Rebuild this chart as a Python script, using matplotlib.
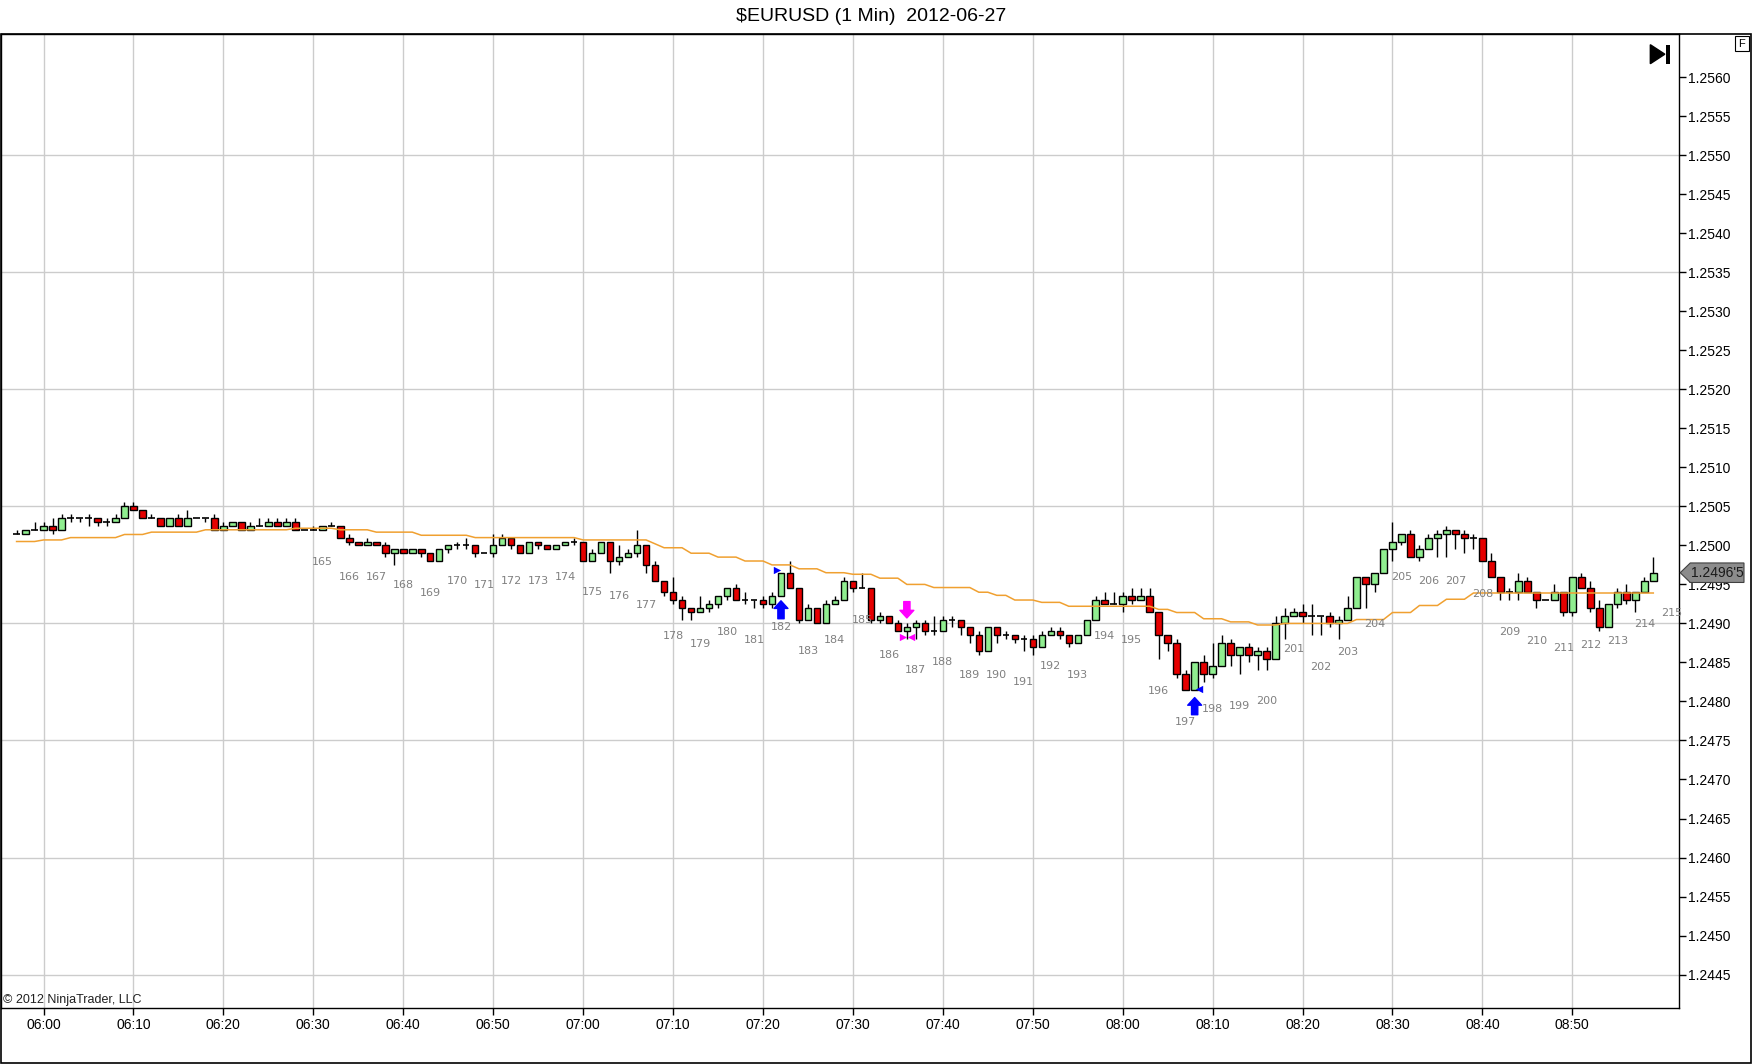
import matplotlib
matplotlib.use("Agg")
import matplotlib.pyplot as plt
from matplotlib.patches import Rectangle, Polygon
import matplotlib.transforms as mtransforms
import pandas as pd

plt.rcParams['font.family'] = ['Liberation Sans', 'DejaVu Sans']

# ---------------- data ----------------
title = "$EURUSD (1 Min)  2012-06-27"
first_bar_time = "2012-06-27 05:57"
axis_origin = "2012-06-27 06:00"

opens = [
    1.25015, 1.25015, 1.2502, 1.2502, 1.25025, 1.2502, 1.25035, 1.25035, 1.25035, 1.25035,
    1.2503, 1.2503, 1.25035, 1.2505, 1.25045, 1.25035, 1.25035, 1.25025, 1.25035, 1.25025,
    1.25035, 1.25035, 1.25035, 1.2502, 1.25025, 1.2503, 1.2502, 1.25025, 1.25025, 1.2503,
    1.25025, 1.2503, 1.2502, 1.2502, 1.2502, 1.25025, 1.25025, 1.2501, 1.25005, 1.2500,
    1.25005, 1.2500, 1.2499, 1.24995, 1.2499, 1.24995, 1.2499, 1.2498, 1.24995, 1.2500,
    1.2500, 1.2500, 1.2499, 1.2499, 1.2500, 1.2501, 1.2500, 1.2499, 1.25005, 1.2500,
    1.24995, 1.2500, 1.25005, 1.25005, 1.2498, 1.2499, 1.25005, 1.2498, 1.24985, 1.2499,
    1.2500, 1.24975, 1.24955, 1.2494, 1.2493, 1.2492, 1.24915, 1.2492, 1.24925, 1.24935,
    1.24945, 1.2493, 1.2493, 1.2493, 1.24925, 1.24935, 1.24965, 1.24945, 1.24905, 1.2492,
    1.2490, 1.24925, 1.2493, 1.24955, 1.24945, 1.24945, 1.24905, 1.2491, 1.2490, 1.2489,
    1.24895, 1.2490, 1.2489, 1.2489, 1.24905, 1.24905, 1.24895, 1.24885, 1.24865, 1.24895,
    1.24885, 1.24885, 1.2488, 1.2488, 1.2487, 1.24885, 1.2489, 1.24885, 1.24875, 1.24885,
    1.24905, 1.2493, 1.24925, 1.24925, 1.24935, 1.2493, 1.24935, 1.24915, 1.24885, 1.24875,
    1.24835, 1.24815, 1.2485, 1.24835, 1.24845, 1.24875, 1.2486, 1.2487, 1.2486, 1.24865,
    1.24855, 1.2490, 1.2491, 1.24915, 1.2491, 1.2491, 1.2491, 1.2490, 1.24905, 1.2492,
    1.2496, 1.2495, 1.24965, 1.24995, 1.25005, 1.25015, 1.24985, 1.24995, 1.2501, 1.25015,
    1.2502, 1.25015, 1.2501, 1.2501, 1.2498, 1.2496, 1.2494, 1.2494, 1.24955, 1.2494,
    1.2493, 1.2493, 1.2494, 1.24915, 1.2496, 1.24945, 1.2492, 1.24895, 1.24925, 1.2494,
    1.2493, 1.2494, 1.24955,
]
highs = [
    1.2502, 1.2502, 1.2503, 1.2503, 1.25035, 1.2504, 1.2504, 1.25035, 1.2504, 1.25035,
    1.25035, 1.2504, 1.25055, 1.25055, 1.25045, 1.2504, 1.25035, 1.25035, 1.2504, 1.25045,
    1.25035, 1.25035, 1.2504, 1.2503, 1.2503, 1.2503, 1.2503, 1.25035, 1.25035, 1.25035,
    1.25035, 1.25035, 1.2502, 1.25025, 1.25025, 1.2503, 1.25025, 1.25015, 1.25005, 1.2501,
    1.25005, 1.25005, 1.24995, 1.24995, 1.24995, 1.24995, 1.2499, 1.24995, 1.2500, 1.25005,
    1.2501, 1.2500, 1.2499, 1.25015, 1.25015, 1.2501, 1.2500, 1.25005, 1.25005, 1.2500,
    1.2500, 1.25005, 1.2501, 1.25005, 1.24995, 1.25005, 1.25005, 1.2500, 1.24995, 1.2502,
    1.2500, 1.2498, 1.24955, 1.2496, 1.24935, 1.2492, 1.24935, 1.2493, 1.24935, 1.24945,
    1.2495, 1.2494, 1.2493, 1.24935, 1.2494, 1.24965, 1.2498, 1.24945, 1.24925, 1.2492,
    1.2493, 1.24935, 1.2496, 1.24955, 1.24965, 1.24945, 1.24915, 1.2491, 1.24905, 1.2490,
    1.24905, 1.24905, 1.2491, 1.2491, 1.2491, 1.24905, 1.24895, 1.2489, 1.24895, 1.24895,
    1.2489, 1.24885, 1.24885, 1.24885, 1.2489, 1.24895, 1.24895, 1.24885, 1.24885, 1.24905,
    1.24935, 1.2494, 1.2494, 1.2494, 1.24945, 1.24945, 1.24945, 1.24915, 1.24885, 1.2488,
    1.2484, 1.2485, 1.2486, 1.24875, 1.24885, 1.2488, 1.2487, 1.24875, 1.2487, 1.2487,
    1.2491, 1.2492, 1.2492, 1.24925, 1.24925, 1.2491, 1.24915, 1.2491, 1.24935, 1.2496,
    1.2496, 1.24965, 1.24995, 1.2503, 1.25015, 1.2502, 1.2500, 1.25015, 1.2502, 1.25025,
    1.2502, 1.2502, 1.25015, 1.2501, 1.2499, 1.2496, 1.24945, 1.24965, 1.2496, 1.2494,
    1.2493, 1.2495, 1.2494, 1.2496, 1.24965, 1.24955, 1.2493, 1.24925, 1.24945, 1.2495,
    1.2494, 1.2496, 1.24985,
]
lows = [
    1.25015, 1.25015, 1.2502, 1.2502, 1.25015, 1.2502, 1.2503, 1.2503, 1.25025, 1.25025,
    1.25025, 1.2503, 1.25035, 1.25045, 1.25035, 1.25035, 1.25025, 1.25025, 1.25025, 1.25025,
    1.25035, 1.2503, 1.2502, 1.2502, 1.25025, 1.2502, 1.2502, 1.25025, 1.25025, 1.25025,
    1.25025, 1.2502, 1.2502, 1.2502, 1.2502, 1.25025, 1.2501, 1.2500, 1.2500, 1.2500,
    1.2500, 1.24985, 1.24975, 1.2499, 1.2499, 1.24985, 1.2498, 1.2498, 1.2499, 1.24995,
    1.24995, 1.24985, 1.2499, 1.24985, 1.2500, 1.24995, 1.2499, 1.2499, 1.24995, 1.24995,
    1.24995, 1.2500, 1.2500, 1.2498, 1.2498, 1.2499, 1.24965, 1.24975, 1.24985, 1.24985,
    1.24965, 1.24955, 1.24935, 1.24925, 1.24905, 1.24905, 1.24915, 1.24915, 1.2492, 1.2493,
    1.2493, 1.24925, 1.2492, 1.2492, 1.2492, 1.24935, 1.24945, 1.2490, 1.24905, 1.2490,
    1.2490, 1.24925, 1.2493, 1.2494, 1.24945, 1.2490, 1.2490, 1.2490, 1.2489, 1.2488,
    1.2488, 1.24885, 1.24885, 1.2489, 1.24895, 1.24885, 1.24875, 1.2486, 1.24865, 1.24875,
    1.2488, 1.24875, 1.24865, 1.2486, 1.2487, 1.24885, 1.2488, 1.2487, 1.24875, 1.24885,
    1.24905, 1.24925, 1.24925, 1.24915, 1.24925, 1.2493, 1.24915, 1.24855, 1.24865, 1.2483,
    1.24815, 1.24815, 1.24825, 1.2483, 1.24845, 1.24845, 1.24835, 1.2485, 1.2484, 1.2484,
    1.24855, 1.2488, 1.2491, 1.2490, 1.24885, 1.24885, 1.24895, 1.2488, 1.24905, 1.2492,
    1.2492, 1.2494, 1.24965, 1.2498, 1.2500, 1.24985, 1.2498, 1.24995, 1.24985, 1.24985,
    1.24995, 1.2499, 1.24995, 1.2498, 1.2496, 1.2493, 1.2493, 1.2493, 1.2494, 1.2492,
    1.2493, 1.2493, 1.2491, 1.2491, 1.24945, 1.24915, 1.2489, 1.24895, 1.2492, 1.24925,
    1.24915, 1.2494, 1.24955,
]
closes = [
    1.25015, 1.2502, 1.2502, 1.25025, 1.2502, 1.25035, 1.25035, 1.25035, 1.25035, 1.2503,
    1.2503, 1.25035, 1.2505, 1.25045, 1.25035, 1.25035, 1.25025, 1.25035, 1.25025, 1.25035,
    1.25035, 1.25035, 1.2502, 1.25025, 1.2503, 1.2502, 1.25025, 1.25025, 1.2503, 1.25025,
    1.2503, 1.2502, 1.2502, 1.2502, 1.25025, 1.25025, 1.2501, 1.25005, 1.2500, 1.25005,
    1.2500, 1.2499, 1.24995, 1.2499, 1.24995, 1.2499, 1.2498, 1.24995, 1.2500, 1.2500,
    1.2500, 1.2499, 1.2499, 1.2500, 1.2501, 1.2500, 1.2499, 1.25005, 1.2500, 1.24995,
    1.2500, 1.25005, 1.25005, 1.2498, 1.2499, 1.25005, 1.2498, 1.24985, 1.2499, 1.2500,
    1.24975, 1.24955, 1.2494, 1.2493, 1.2492, 1.24915, 1.2492, 1.24925, 1.24935, 1.24945,
    1.2493, 1.2493, 1.2493, 1.24925, 1.24935, 1.24965, 1.24945, 1.24905, 1.2492, 1.2490,
    1.24925, 1.2493, 1.24955, 1.24945, 1.24945, 1.24905, 1.2491, 1.2490, 1.2489, 1.24895,
    1.2490, 1.2489, 1.2489, 1.24905, 1.24905, 1.24895, 1.24885, 1.24865, 1.24895, 1.24885,
    1.24885, 1.2488, 1.2488, 1.2487, 1.24885, 1.2489, 1.24885, 1.24875, 1.24885, 1.24905,
    1.2493, 1.24925, 1.24925, 1.24935, 1.2493, 1.24935, 1.24915, 1.24885, 1.24875, 1.24835,
    1.24815, 1.2485, 1.24835, 1.24845, 1.24875, 1.2486, 1.2487, 1.2486, 1.24865, 1.24855,
    1.2490, 1.2491, 1.24915, 1.2491, 1.2491, 1.2491, 1.2490, 1.24905, 1.2492, 1.2496,
    1.2495, 1.24965, 1.24995, 1.25005, 1.25015, 1.24985, 1.24995, 1.2501, 1.25015, 1.2502,
    1.25015, 1.2501, 1.2501, 1.2498, 1.2496, 1.2494, 1.2494, 1.24955, 1.2494, 1.2493,
    1.2493, 1.2494, 1.24915, 1.2496, 1.24945, 1.2492, 1.24895, 1.24925, 1.2494, 1.2493,
    1.2494, 1.24955, 1.24965,
]
trend_line = [
    1.25005, 1.25005, 1.25005, 1.25007, 1.25007, 1.25007, 1.2501, 1.2501, 1.2501, 1.2501,
    1.2501, 1.2501, 1.25014, 1.25014, 1.25014, 1.25017, 1.25017, 1.25017, 1.25017, 1.25017,
    1.25017, 1.2502, 1.2502, 1.2502, 1.2502, 1.2502, 1.2502, 1.2502, 1.2502, 1.2502,
    1.2502, 1.25022, 1.25022, 1.25022, 1.25022, 1.25022, 1.2502, 1.2502, 1.2502, 1.2502,
    1.25017, 1.25017, 1.25017, 1.25017, 1.25017, 1.25013, 1.25013, 1.25013, 1.25013, 1.25013,
    1.25013, 1.2501, 1.2501, 1.2501, 1.2501, 1.2501, 1.2501, 1.2501, 1.2501, 1.2501,
    1.2501, 1.2501, 1.2501, 1.25007, 1.25007, 1.25007, 1.25007, 1.25007, 1.25007, 1.25007,
    1.25007, 1.25002, 1.24997, 1.24997, 1.24997, 1.2499, 1.2499, 1.2499, 1.24985, 1.24985,
    1.24985, 1.2498, 1.2498, 1.2498, 1.24975, 1.24975, 1.24975, 1.2497, 1.2497, 1.2497,
    1.24965, 1.24965, 1.24965, 1.24963, 1.24963, 1.24963, 1.24958, 1.24958, 1.24958, 1.2495,
    1.2495, 1.2495, 1.24946, 1.24946, 1.24946, 1.24946, 1.24946, 1.2494, 1.2494, 1.24936,
    1.24936, 1.2493, 1.2493, 1.2493, 1.24927, 1.24927, 1.24927, 1.24922, 1.24922, 1.24922,
    1.24922, 1.24922, 1.24922, 1.24922, 1.24922, 1.24922, 1.24922, 1.24918, 1.24918, 1.24914,
    1.24914, 1.24914, 1.24906, 1.24906, 1.24906, 1.24902, 1.24902, 1.24902, 1.24898, 1.24898,
    1.24898, 1.249, 1.249, 1.249, 1.249, 1.249, 1.249, 1.249, 1.249, 1.24905,
    1.24905, 1.24905, 1.24905, 1.24914, 1.24914, 1.24914, 1.24923, 1.24923, 1.24923, 1.24931,
    1.24931, 1.24931, 1.24939, 1.24939, 1.24939, 1.24939, 1.24939, 1.24939, 1.24939, 1.24939,
    1.24939, 1.24939, 1.24939, 1.24939, 1.24939, 1.24939, 1.24939, 1.24939, 1.24939, 1.24939,
    1.24939, 1.24939, 1.24939,
]

bar_numbers = [165, 166, 167, 168, 169, 170, 171, 172, 173, 174, 175, 176, 177, 178, 179,
               180, 181, 182, 183, 184, 185, 186, 187, 188, 189, 190, 191, 192, 193, 194,
               195, 196, 197, 198, 199, 200, 201, 202, 203, 204, 205, 206, 207, 208, 209,
               210, 211, 212, 213, 214, 215]
bar_number_times = ["06:31", "06:34", "06:37", "06:40", "06:43", "06:46", "06:49", "06:52",
                    "06:55", "06:58", "07:01", "07:04", "07:07", "07:10", "07:13", "07:16",
                    "07:19", "07:22", "07:25", "07:28", "07:31", "07:34", "07:37", "07:40",
                    "07:43", "07:46", "07:49", "07:52", "07:55", "07:58", "08:01", "08:04",
                    "08:07", "08:10", "08:13", "08:16", "08:19", "08:22", "08:25", "08:28",
                    "08:31", "08:34", "08:37", "08:40", "08:43", "08:46", "08:49", "08:52",
                    "08:55", "08:58", "09:01"]
bar_number_levels = [1.24979, 1.2496, 1.2496, 1.24949, 1.24939, 1.24954, 1.24949, 1.24954,
                     1.24954, 1.2496, 1.2494, 1.24935, 1.24924, 1.24884, 1.24874, 1.24889,
                     1.24879, 1.24895, 1.24865, 1.24879, 1.24905, 1.2486, 1.2484, 1.2485,
                     1.24834, 1.24834, 1.24825, 1.24845, 1.24834, 1.24884, 1.24879, 1.24814,
                     1.24774, 1.2479, 1.24794, 1.248, 1.24867, 1.24844, 1.24864, 1.24899,
                     1.24959, 1.24954, 1.24954, 1.24938, 1.24889, 1.24878, 1.24868, 1.24873,
                     1.24878, 1.24899, 1.24914]

# signal arrows: (time, tail price, tip price, colour)
arrow_times = ["07:22", "07:36", "08:08"]
arrow_tails = [1.24906, 1.24928, 1.24783]
arrow_tips = [1.24929, 1.24907, 1.24805]
arrow_colors = ["#0000FF", "#FF00FF", "#0000FF"]

# execution triangles
exec_times = ["07:22", "07:36", "07:36", "08:08"]
exec_prices = [1.24968, 1.24883, 1.24883, 1.24816]
exec_markers = [">", ">", "<", "<"]
exec_sides = [-1, -1, 1, 1]
exec_colors = ["#0000FF", "#FF00FF", "#FF00FF", "#0000FF"]

x_tick_labels = ["06:00", "06:10", "06:20", "06:30", "06:40", "06:50", "07:00", "07:10",
                 "07:20", "07:30", "07:40", "07:50", "08:00", "08:10", "08:20", "08:30",
                 "08:40", "08:50"]
y_tick_values = [1.2445, 1.2450, 1.2455, 1.2460, 1.2465, 1.2470, 1.2475, 1.2480, 1.2485,
                 1.2490, 1.2495, 1.2500, 1.2505, 1.2510, 1.2515, 1.2520, 1.2525, 1.2530,
                 1.2535, 1.2540, 1.2545, 1.2550, 1.2555, 1.2560]
y_grid_values = [1.2445, 1.2460, 1.2475, 1.2490, 1.2505, 1.2520, 1.2535, 1.2550]
last_price = 1.24965
last_price_label = "1.2496'5"
copyright_text = "\u00a9 2012 NinjaTrader, LLC"

# ---------------- helpers ----------------
origin = pd.Timestamp(axis_origin)
times = pd.date_range(first_bar_time, periods=len(opens), freq="min")
xs = [(t - origin).total_seconds() / 60.0 for t in times]


def tpos(hhmm):
    return (pd.Timestamp("2012-06-27 " + hhmm) - origin).total_seconds() / 60.0


UP = "#90EE90"
DOWN = "#E60000"
W = 0.72

W_PX, H_PX = 1568.0, 952.0  # layout reference grid

fig = plt.figure(figsize=(17.52, 10.64), dpi=100)
ax = fig.add_axes([1 / W_PX, 1 - 902 / H_PX, 1502 / W_PX, 872 / H_PX])

ax.set_xlim(-4.72, 181.9)
ax.set_ylim(1.24407, 1.25656)

# grid
for g in y_grid_values:
    ax.axhline(g, color="#CCCCCC", lw=1.0, zorder=0)
for lab in x_tick_labels:
    ax.axvline(tpos(lab), color="#CCCCCC", lw=1.0, zorder=0)

# candles
for x, o, h, l, c in zip(xs, opens, highs, lows, closes):
    ax.vlines(x, l, h, color="black", lw=1.0, zorder=2)
    if abs(c - o) < 1e-9:
        ax.hlines(o, x - W / 2, x + W / 2, color="black", lw=1.2, zorder=3)
    else:
        ax.bar(x, abs(c - o), bottom=min(o, c), width=W,
               color=UP if c > o else DOWN, edgecolor="black", linewidth=1.0, zorder=3)

# trend line
ax.plot(xs, trend_line, color="#F0A030", lw=1.1, zorder=4)

# bar numbers
for n, t, lv in zip(bar_numbers, bar_number_times, bar_number_levels):
    ax.text(tpos(t), lv, str(n), ha="center", va="center", fontsize=8,
            color="#808080", zorder=5, family=["DejaVu Sans"], clip_on=False)

# arrows
for t, a, b, col in zip(arrow_times, arrow_tails, arrow_tips, arrow_colors):
    ax.annotate("", xy=(tpos(t), b), xytext=(tpos(t), a),
                arrowprops=dict(arrowstyle="simple,head_length=0.55,head_width=1.0,tail_width=0.45",
                                color=col, shrinkA=0, shrinkB=0, mutation_scale=10),
                zorder=6)
for t, p, mk, sd, col in zip(exec_times, exec_prices, exec_markers, exec_sides, exec_colors):
    ax.scatter([tpos(t) + sd * 0.45], [p], marker=mk, s=28, color=col, zorder=6, linewidths=0)

# axes style
for sp in ax.spines.values():
    sp.set_color("black")
    sp.set_linewidth(1.0)
ax.yaxis.tick_right()
ax.set_yticks(y_tick_values)
ax.set_yticklabels([f"{v:.4f}" for v in y_tick_values])
ax.set_xticks([tpos(l) for l in x_tick_labels])
ax.set_xticklabels(x_tick_labels)
ax.tick_params(axis="y", direction="out", length=5, width=1, pad=1.5, labelsize=10)
ax.tick_params(axis="x", direction="out", length=5, width=1, pad=2, labelsize=10)

# last price tag
blend = mtransforms.blended_transform_factory(ax.transAxes, ax.transData)
hh = 0.000125
tag = Polygon([(1.0005, last_price), (1.0065, last_price + hh), (1.0385, last_price + hh),
               (1.0385, last_price - hh), (1.0065, last_price - hh)], closed=True,
              transform=blend, facecolor="#8C8C8C", edgecolor="#404040", lw=0.8,
              clip_on=False, zorder=10)
ax.add_patch(tag)
ax.text(1.0225, last_price, last_price_label, transform=blend, ha="center", va="center",
        fontsize=10, color="#1A1A1A", clip_on=False, zorder=11)

# copyright
fig.text(3 / W_PX, 1 - 895 / H_PX, copyright_text, ha="left", va="center", fontsize=9,
         color="#202020")

# title
fig.text(780 / W_PX, 1 - 15 / H_PX, title, ha="center", va="center", fontsize=14)

# outer frame
fig.patches.append(Rectangle((0.0004, 0.0008), 0.9992, 1 - 30 / H_PX - 0.0008,
                             transform=fig.transFigure, fill=False, edgecolor="black",
                             lw=1.2))

# "go to end" icon
fig.patches.append(Polygon([(1477 / W_PX, 1 - 40 / H_PX), (1477 / W_PX, 1 - 57 / H_PX),
                            (1490 / W_PX, 1 - 48.5 / H_PX)], closed=True,
                           transform=fig.transFigure, facecolor="black", edgecolor="black"))
fig.patches.append(Rectangle((1491 / W_PX, 1 - 57 / H_PX), 4 / W_PX, 17 / H_PX,
                             transform=fig.transFigure, facecolor="black", edgecolor="none"))

# "F" box
fig.patches.append(Rectangle((1553 / W_PX, 1 - 46 / H_PX), 12 / W_PX, 14 / H_PX,
                             transform=fig.transFigure, fill=False, edgecolor="black", lw=0.8))
fig.text(1559 / W_PX, 1 - 39 / H_PX, "F", ha="center", va="center", fontsize=8)

fig.savefig("out.png", dpi=100, facecolor="white")
